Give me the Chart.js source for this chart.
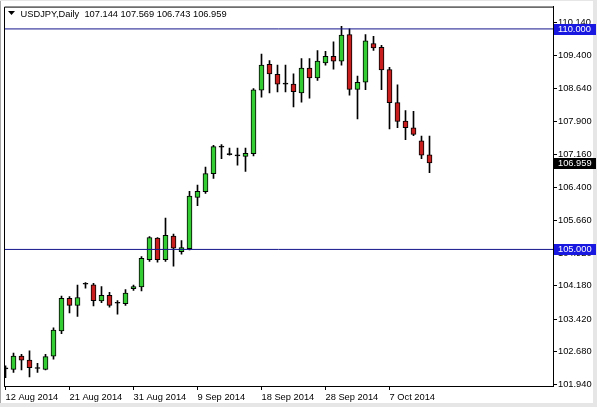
<!DOCTYPE html>
<html><head><meta charset="utf-8">
<script src="https://cdn.jsdelivr.net/npm/chart.js@4.4.0/dist/chart.umd.min.js"></script>
<style>html,body{margin:0;padding:0;background:#fff;overflow:hidden}#wrap{width:597px;height:407px;position:relative}canvas{display:block}</style>
</head><body><div id="wrap"><canvas id="c" width="597" height="407"></canvas></div>
<script>
const symbol = 'USDJPY';
const period = 'Daily';
const dates = ['12 Aug 2014','13 Aug 2014','14 Aug 2014','15 Aug 2014','17 Aug 2014','18 Aug 2014','19 Aug 2014','20 Aug 2014',
  '21 Aug 2014','22 Aug 2014','24 Aug 2014','25 Aug 2014','26 Aug 2014','27 Aug 2014','28 Aug 2014','29 Aug 2014',
  '31 Aug 2014','1 Sep 2014','2 Sep 2014','3 Sep 2014','4 Sep 2014','5 Sep 2014','7 Sep 2014','8 Sep 2014',
  '9 Sep 2014','10 Sep 2014','11 Sep 2014','12 Sep 2014','14 Sep 2014','15 Sep 2014','16 Sep 2014','17 Sep 2014',
  '18 Sep 2014','19 Sep 2014','21 Sep 2014','22 Sep 2014','23 Sep 2014','24 Sep 2014','25 Sep 2014','26 Sep 2014',
  '28 Sep 2014','29 Sep 2014','30 Sep 2014','1 Oct 2014','2 Oct 2014','3 Oct 2014','5 Oct 2014','6 Oct 2014',
  '7 Oct 2014','8 Oct 2014','9 Oct 2014','10 Oct 2014','12 Oct 2014','13 Oct 2014'];
const opens = [102.29,102.28,102.58,102.49,102.31,102.28,102.58,103.15,
  103.89,103.73,104.21,104.20,103.83,103.96,103.78,103.77,
  104.11,104.15,104.77,105.26,104.77,105.30,104.95,105.02,
  106.18,106.31,106.72,107.32,107.15,107.12,107.11,107.17,
  108.61,109.20,108.97,108.76,108.75,108.55,109.11,108.89,
  109.23,109.38,109.27,109.87,108.63,108.79,109.67,109.58,
  109.08,108.33,107.91,107.76,107.46,107.144];
const highs = [102.36,102.65,102.62,102.70,102.42,102.62,103.22,103.94,
  103.93,104.19,104.25,104.23,104.16,104.03,103.84,104.09,
  104.19,104.84,105.29,105.27,105.71,105.35,105.20,106.32,
  106.46,106.87,107.36,107.38,107.30,107.30,107.30,108.65,
  109.43,109.28,109.18,109.18,108.98,109.33,109.33,109.51,
  109.49,109.71,110.06,110.00,108.93,109.87,109.83,109.63,
  109.13,108.73,108.15,108.13,107.57,107.569];
const lows = [102.09,102.21,102.27,102.11,102.21,102.27,102.51,103.09,
  103.56,103.48,104.12,103.72,103.79,103.69,103.53,103.73,
  104.07,104.06,104.73,104.71,104.73,104.62,104.89,104.99,
  105.99,106.27,106.61,107.06,107.14,106.91,106.77,107.12,
  108.45,108.55,108.57,108.57,108.23,108.34,108.43,108.83,
  109.18,109.09,109.18,108.50,107.96,108.62,109.51,108.62,
  107.73,107.76,107.49,107.58,107.06,106.743];
const closes = [102.30,102.58,102.49,102.32,102.30,102.57,103.17,103.89,
  103.73,103.91,104.22,103.84,103.96,103.73,103.79,104.01,
  104.16,104.80,105.27,104.77,105.32,105.03,105.04,106.21,
  106.32,106.72,107.33,107.33,107.16,107.13,107.18,108.62,
  109.18,108.98,108.75,108.75,108.58,109.11,108.89,109.27,
  109.38,109.27,109.86,108.63,108.79,109.73,109.57,109.07,
  108.33,107.90,107.76,107.61,107.14,106.959];
const yTickValues = [101.94,102.68,103.42,104.18,104.92,105.66,106.40,107.16,107.90,108.64,109.40,110.14];
const xTickIndexes = [0,8,16,24,32,40,48];
const levelLines = [110.000, 105.000];

const FONT = '"Liberation Sans", Arial, sans-serif';
const FSIZE = 9.3;
const xMin = -0.1875, xMax = 68.4375;
const yMin = 101.9032, yMax = 110.5068;
const UP = '#33CC33', DOWN = '#C81E1E', LEVEL = '#14148C', LEVEL_BOX = '#1818E0';

const bodyColors = opens.map((o,i)=> Math.abs(closes[i]-o) < 0.025 ? '#000' : (closes[i] > o ? UP : DOWN));

const framePlugin = {
  id:'frame',
  beforeDraw(chart){
    const ctx = chart.ctx;
    ctx.save();
    ctx.fillStyle = '#fff'; ctx.fillRect(0,0,chart.width,chart.height);
    ctx.fillStyle = '#a8a8a8'; ctx.fillRect(0,0,1,chart.height);
    ctx.fillStyle = '#e6e6e6'; ctx.fillRect(0,0,chart.width,1);
    ctx.fillRect(chart.width-4,0,4,chart.height);
    ctx.fillRect(0,chart.height-4,chart.width,4);
    ctx.restore();
  },
  afterDraw(chart){
    const ctx = chart.ctx, a = chart.chartArea;
    ctx.save();
    ctx.strokeStyle = '#000'; ctx.lineWidth = 1;
    ctx.beginPath();
    ctx.moveTo(a.left+0.5, a.bottom+0.5); ctx.lineTo(a.left+0.5, a.top+0.5); ctx.lineTo(a.right+0.5, a.top+0.5);
    ctx.stroke();
    // title
    ctx.fillStyle = '#000';
    ctx.beginPath(); ctx.moveTo(8,11); ctx.lineTo(15,11); ctx.lineTo(11.5,15); ctx.closePath(); ctx.fill();
    const n = closes.length - 1;
    const txt = symbol + ',' + period + '  ' + [opens[n],highs[n],lows[n],closes[n]].map(v=>v.toFixed(3)).join(' ');
    ctx.font = FSIZE + 'px ' + FONT;
    ctx.textBaseline = 'alphabetic'; ctx.textAlign = 'left';
    ctx.fillText(txt, 20.5, 16.5);
    // price boxes
    const ys = chart.scales.y;
    const box = (v, bg) => {
      const cy = Math.round(ys.getPixelForValue(v));
      ctx.fillStyle = bg; ctx.fillRect(a.right+1, cy-5, 42, 11);
      ctx.fillStyle = '#fff'; ctx.textBaseline = 'middle';
      ctx.fillText(v.toFixed(3), a.right+5, cy+0.5);
    };
    levelLines.forEach(v => box(v, LEVEL_BOX));
    box(closes[n], '#000');
    ctx.restore();
  }
};

const datasets = [
  ...levelLines.map(v => ({
    type:'line', order:0, data:[{x:xMin,y:v},{x:xMax,y:v}],
    borderColor:LEVEL, borderWidth:1, pointRadius:0, fill:false, tension:0
  })),
  {
    type:'bar', order:1, grouped:false,
    data: dates.map((d,i)=>({x:i, y:[Math.min(opens[i],closes[i]), Math.max(opens[i],closes[i])]})),
    backgroundColor: bodyColors, borderColor:'#000', borderWidth:1, borderSkipped:false,
    barThickness:5, minBarLength:1
  },
  {
    type:'bar', order:2, grouped:false,
    data: dates.map((d,i)=>({x:i, y:[lows[i], highs[i]]})),
    backgroundColor:'#000', borderWidth:0, barThickness:1
  }
];

new Chart(document.getElementById('c'), {
  type:'bar',
  data:{ datasets },
  plugins:[framePlugin],
  options:{
    responsive:false, animation:false, devicePixelRatio:1,
    layout:{ padding:{ left:4, top:4, right:0, bottom:0 } },
    plugins:{ legend:{display:false}, tooltip:{enabled:false}, title:{display:false} },
    scales:{
      x:{
        type:'linear', min:xMin, max:xMax, offset:false,
        grid:{ display:true, drawOnChartArea:false, drawTicks:true, tickLength:4, color:'#000', offset:false },
        border:{ display:true, color:'#000' },
        ticks:{ align:'start', padding:2, color:'#000', autoSkip:false, maxRotation:0, minRotation:0,
          font:{ family:FONT, size:FSIZE }, callback:(v)=> dates[v] !== undefined ? dates[v] : '' },
        afterBuildTicks:(s)=>{ s.ticks = xTickIndexes.map(v=>({value:v})); },
        afterFit:(s)=>{ s.height = 21; }
      },
      y:{
        type:'linear', position:'right', min:yMin, max:yMax,
        grid:{ display:true, drawOnChartArea:false, drawTicks:true, tickLength:4, color:'#000' },
        border:{ display:true, color:'#000' },
        ticks:{ padding:1, color:'#000', autoSkip:false, font:{ family:FONT, size:FSIZE },
          callback:(v)=> Number(v).toFixed(3) },
        afterBuildTicks:(s)=>{ s.ticks = yTickValues.map(v=>({value:v})); },
        afterFit:(s)=>{ s.width = 44; }
      }
    }
  }
});
</script>
</body></html>
